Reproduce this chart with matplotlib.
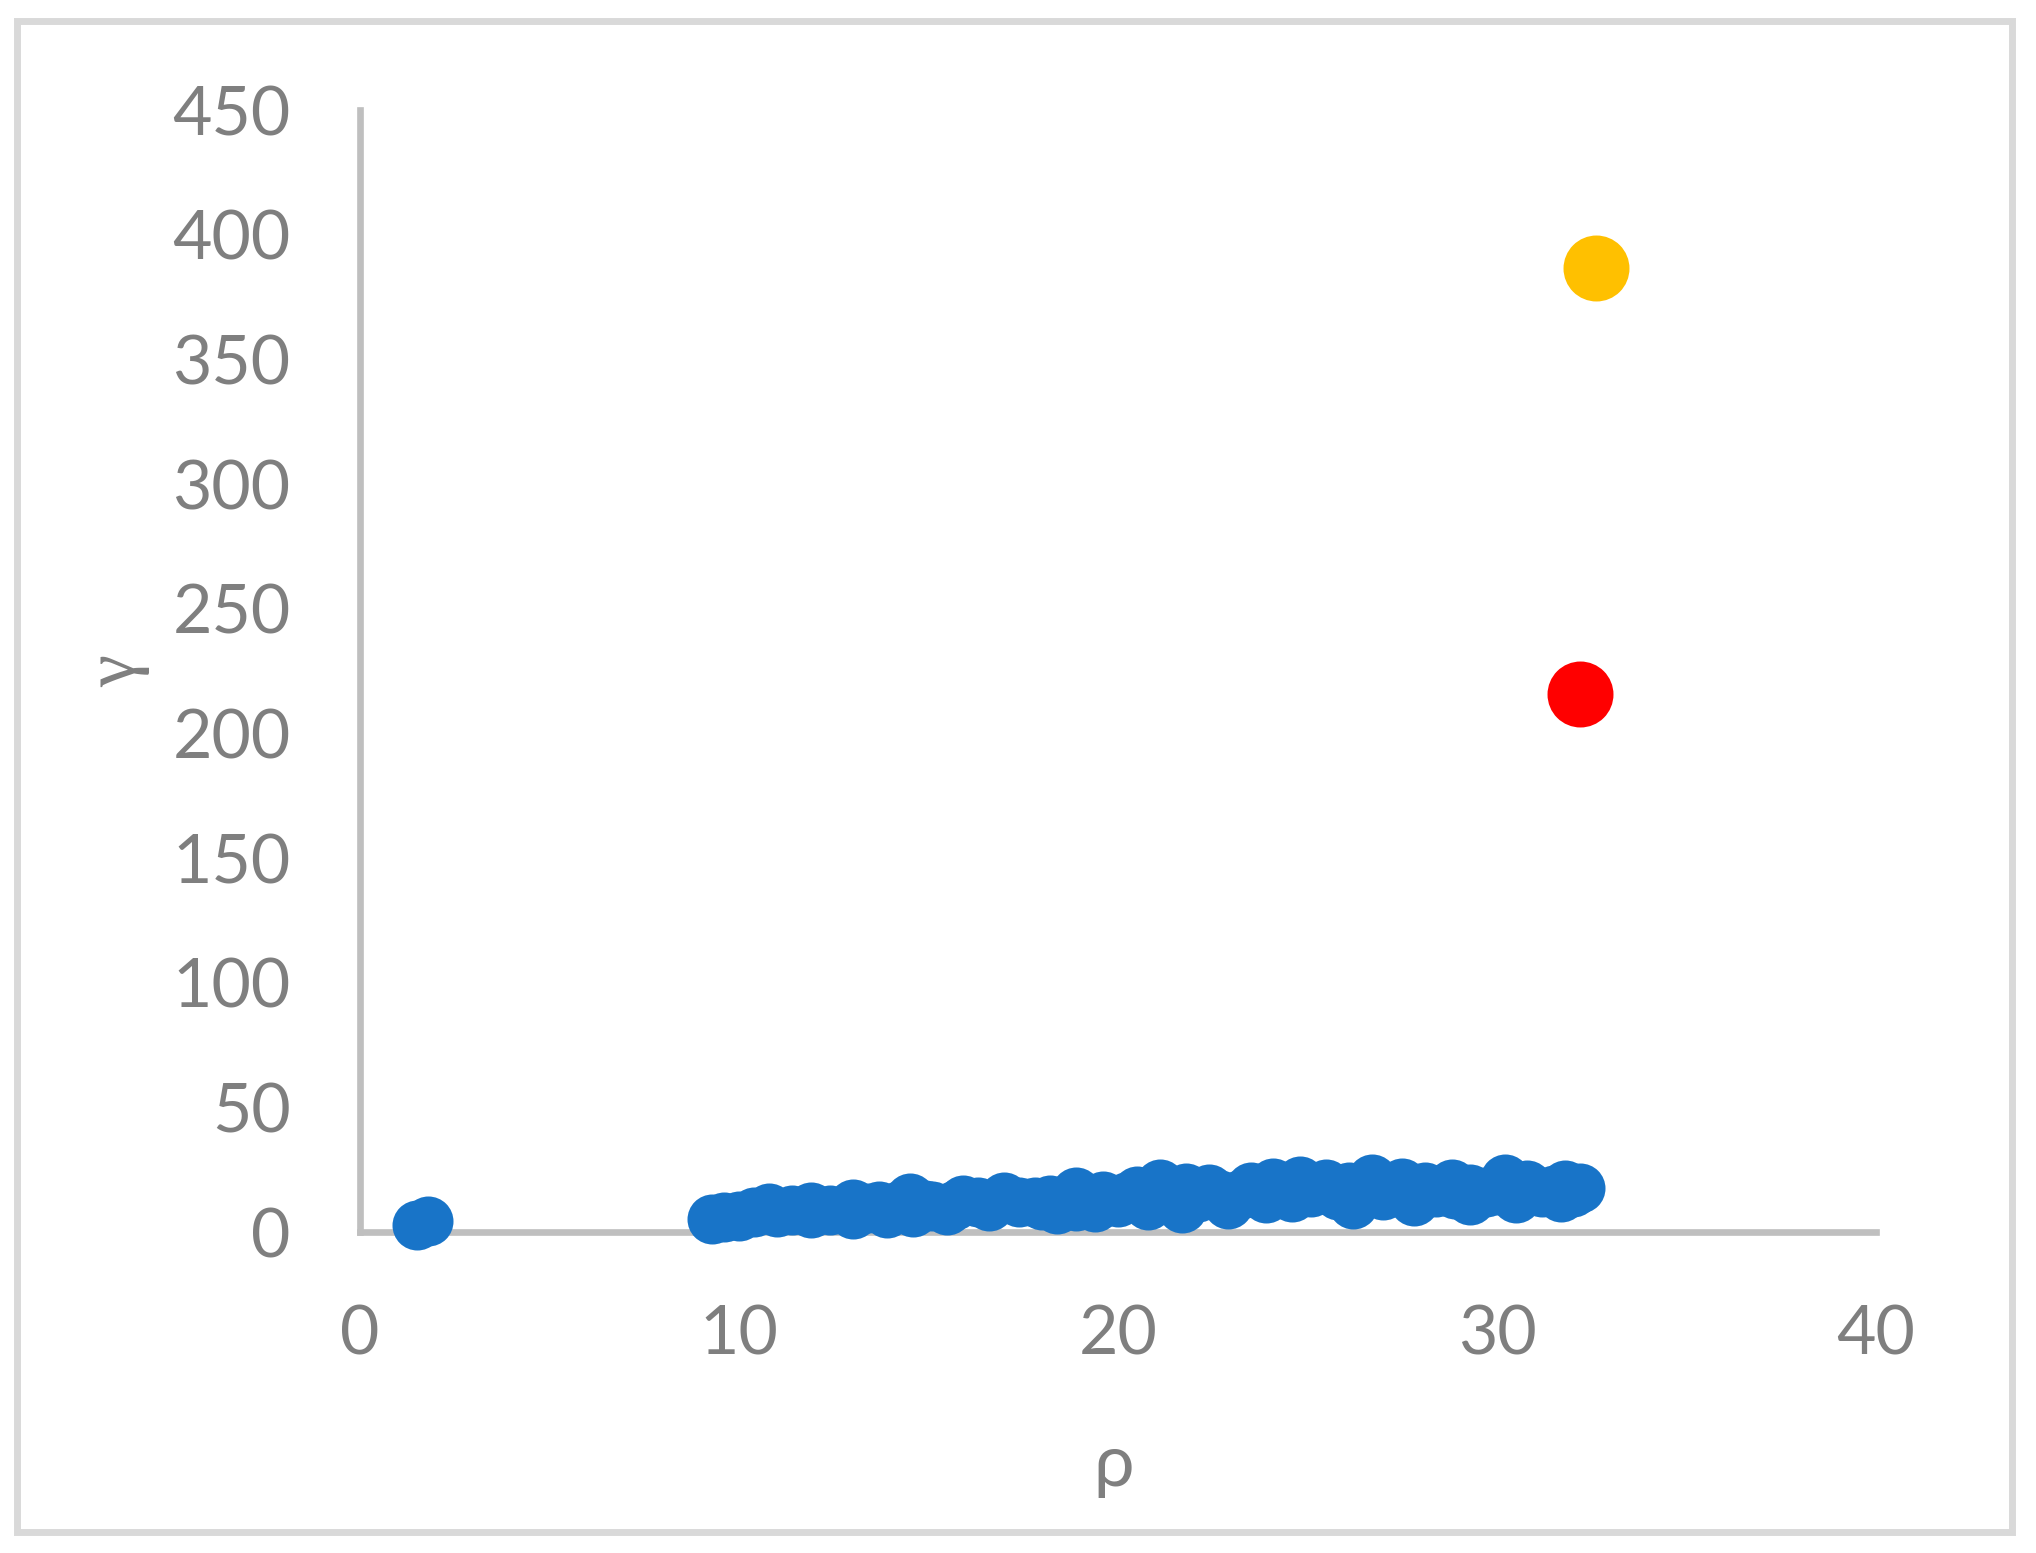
import matplotlib.pyplot as plt
from matplotlib.patches import Rectangle

# blue cluster (rho, gamma): edge points first, then inner points of the band
rho = [1.5, 1.8, 9.3, 10.0, 10.8, 11.0, 11.9, 11.9, 13.0, 13.0, 13.7, 13.9,
       14.5, 14.6, 15.1, 15.5, 15.9, 16.6, 17.0, 17.8, 18.2, 18.4, 18.9, 18.9,
       19.4, 19.6, 20.0, 20.5, 20.8, 21.1, 21.7, 21.8, 22.4, 22.9, 23.5, 23.9,
       24.1, 24.6, 24.8, 25.5, 26.1, 26.2, 26.7, 27.0, 27.5, 27.8, 28.1, 28.8,
       28.9, 29.3, 29.3, 30.2, 30.5, 30.8, 31.7, 31.8, 32.2,
       9.6, 10.4, 11.4, 12.4, 13.4, 14.2, 14.9, 15.7, 16.3, 17.4, 18.0, 19.2,
       20.2, 21.4, 22.1, 22.7, 23.2, 24.3, 25.1, 25.8, 26.4, 27.2, 28.4, 29.7,
       30.0, 31.2, 31.5, 32.0]
gamma = [2.8, 4.4, 5.3, 6.6, 9.6, 8.0, 10.0, 7.6, 11.2, 7.2, 10.4, 7.6,
         13.6, 8.0, 10.4, 8.8, 12.8, 10.4, 14.0, 12.0, 13.0, 9.2, 16.0, 10.4,
         10.0, 14.4, 12.0, 16.4, 10.8, 19.3, 9.6, 17.6, 17.2, 11.2, 18.0, 13.6,
         19.7, 14.0, 20.5, 19.3, 18.0, 11.2, 21.3, 14.8, 19.7, 12.4, 18.0, 19.3,
         15.2, 17.2, 12.8, 21.3, 13.6, 19.0, 14.0, 19.0, 17.6,
         6.0, 8.0, 9.0, 9.0, 9.5, 10.5, 11.0, 11.0, 12.0, 12.0, 11.0, 12.5,
         14.0, 14.0, 14.0, 15.0, 15.0, 16.0, 16.0, 15.0, 15.0, 17.0, 16.0, 16.0,
         17.0, 16.0, 17.0, 16.0]

# the two outliers
red_pt = (32.2, 215.6)
yellow_pt = (32.6, 386.8)

xticks = [0, 10, 20, 30, 40]
yticks = [0, 50, 100, 150, 200, 250, 300, 350, 400, 450]

W, H = 2036, 1553
fig = plt.figure(figsize=(W / 100, H / 100), dpi=100)
ax = fig.add_axes([360 / W, 1 - 1232 / H, (1876 - 360) / W, (1232 - 110) / H])

ax.scatter(rho, gamma, s=36 ** 2, color="#1874C8", linewidths=0, zorder=3, clip_on=False)
ax.scatter([red_pt[0]], [red_pt[1]], s=47.5 ** 2, color="#FF0000", linewidths=0, zorder=3)
ax.scatter([yellow_pt[0]], [yellow_pt[1]], s=47.5 ** 2, color="#FFC000", linewidths=0, zorder=3)

ax.set_xlim(0, 40)
ax.set_ylim(0, 450)
ax.set_xticks(xticks)
ax.set_yticks(yticks)

for side in ["top", "right"]:
    ax.spines[side].set_visible(False)
for side in ["left", "bottom"]:
    ax.spines[side].set_color("#BFBFBF")
    ax.spines[side].set_linewidth(4.8)
    ax.spines[side].set_zorder(1)

grey = "#7F7F7F"
fnt = ["Lato", "DejaVu Sans"]
ax.tick_params(axis="both", length=0, colors=grey, labelsize=49)
ax.tick_params(axis="y", pad=50)
ax.tick_params(axis="x", pad=52)
for lab in ax.get_xticklabels() + ax.get_yticklabels():
    lab.set_family(fnt)

fig.text(1114 / W, 1 - 1465 / H, "ρ", family=fnt, fontsize=52, color=grey,
         ha="center", va="center")
fig.text(118 / W, 1 - 671 / H, "γ", family=["Liberation Serif", "DejaVu Serif"],
         fontsize=52, color=grey, rotation=90, ha="center", va="center")

# outer chart border
fig.patches.append(Rectangle((16.5 / W, 1 - 1532 / H), (2011.5 - 16.5) / W, (1532 - 20.5) / H,
                             transform=fig.transFigure, fill=False,
                             edgecolor="#D9D9D9", linewidth=5))

fig.savefig("out.png", dpi=100, facecolor="white")
